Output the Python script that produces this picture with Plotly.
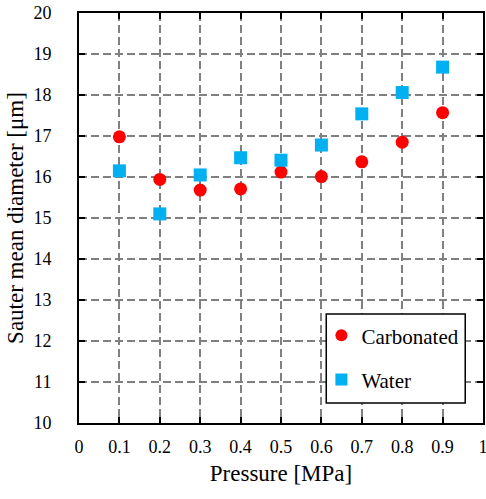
import plotly.graph_objects as go

pressure = [0.1, 0.2, 0.3, 0.4, 0.5, 0.6, 0.7, 0.8, 0.9]
carbonated = [16.98, 15.94, 15.68, 15.71, 16.12, 16.01, 16.37, 16.85, 17.57]
water = [16.15, 15.10, 16.05, 16.47, 16.41, 16.78, 17.54, 18.06, 18.68]

x_ticks = [0, 0.1, 0.2, 0.3, 0.4, 0.5, 0.6, 0.7, 0.8, 0.9, 1]
x_ticktext = ["0", "0.1", "0.2", "0.3", "0.4", "0.5", "0.6", "0.7", "0.8", "0.9", "1"]
y_ticks = list(range(10, 21))

FONT = "'Liberation Serif', 'Times New Roman', 'DejaVu Serif', serif"

fig = go.Figure()
fig.add_trace(go.Scatter(
    x=pressure, y=carbonated, mode="markers", name="Carbonated",
    legendgroup="a",
    marker=dict(symbol="circle", size=13, color="#ff0000", line=dict(width=0)),
))
fig.add_trace(go.Scatter(
    x=pressure, y=water, mode="markers", name="Water",
    legendgroup="b",
    marker=dict(symbol="square", size=13, color="#00b0f0", line=dict(width=0)),
))

axis_common = dict(
    showline=True, linecolor="black", linewidth=2, mirror="allticks",
    ticks="inside", ticklen=6, tickwidth=2, tickcolor="black",
    showgrid=True, gridcolor="#808080", gridwidth=2, griddash="8px,4px",
    zeroline=False, automargin=False, ticklabeloverflow="allow",
    tickfont=dict(family=FONT, size=18, color="black"),
)

fig.update_xaxes(
    range=[0, 1], tickvals=x_ticks, ticktext=x_ticktext,
    title=dict(text="Pressure [MPa]", font=dict(family=FONT, size=23, color="black"), standoff=9),
    ticklabelstandoff=6,
    **axis_common,
)
fig.update_yaxes(
    range=[10, 20], tickvals=y_ticks,
    title=dict(text="Sauter mean diameter [μm]", font=dict(family=FONT, size=23, color="black"), standoff=3),
    ticklabelstandoff=22,
    **axis_common,
)

# legend frame
fig.add_shape(
    type="rect", xref="paper", yref="paper",
    x0=0.612, x1=0.956, y0=0.049, y1=0.266,
    fillcolor="white", line=dict(color="black", width=1.5), layer="above",
)

fig.update_layout(
    width=486, height=499,
    margin=dict(l=79, r=3, t=13, b=76),
    paper_bgcolor="white", plot_bgcolor="white",
    font=dict(family=FONT, color="black"),
    showlegend=True,
    legend=dict(
        x=0.600, y=0.263, xanchor="left", yanchor="top",
        bgcolor="rgba(0,0,0,0)", borderwidth=0,
        font=dict(family=FONT, size=21, color="black"),
        traceorder="grouped", tracegroupgap=14,
        itemwidth=30, itemsizing="constant",
    ),
)

fig.write_html(
    "out.html",
    config={"displayModeBar": False},
    post_script="document.body.style.margin='0';document.body.style.overflow='hidden';",
)
